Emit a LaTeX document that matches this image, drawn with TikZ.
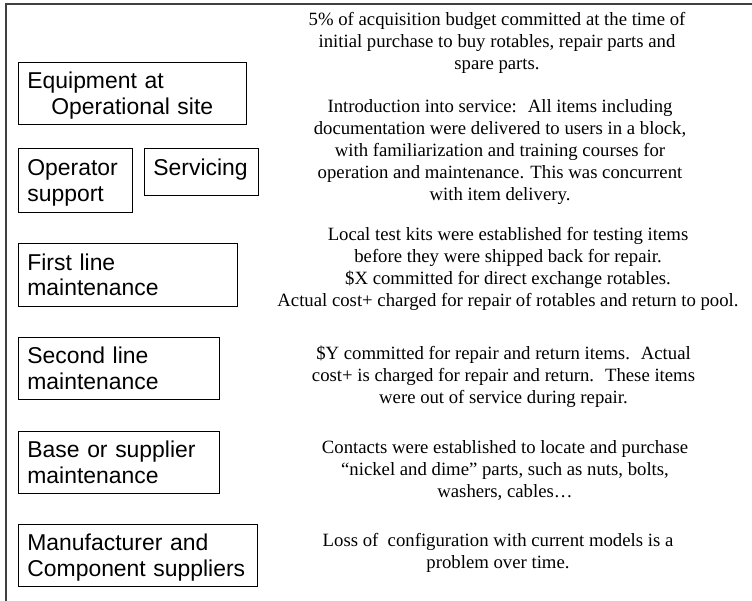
\documentclass[tikz,border=0pt]{standalone}
\usepackage{fontspec}
\setmainfont{Liberation Serif}
\setsansfont{Liberation Sans}

\begin{document}
\begin{tikzpicture}[
    x=1bp, y=-1bp,
    level/.style={draw, rectangle, line width=0.8bp, anchor=north west, align=left,
        inner xsep=9bp, inner ysep=0pt, text depth=26bp,
        font=\sffamily\fontsize{23}{26}\selectfont},
    note/.style={anchor=north, align=center, inner sep=0pt,
        font=\rmfamily\fontsize{18.8}{22.2}\selectfont},
    frame/.style={draw=black!75, line width=1.5bp}
]
\useasboundingbox (0,0) rectangle (752,601);

% Outer frame
\coordinate (fb) at (6,601);
\coordinate (fc) at (6,4);
\coordinate (fr) at (752,4);
\draw[frame] (fb) -- (fc) -- (fr);

% Support levels
\node[level, text width=211, minimum height=62] (equip) at (18,62) {Equipment at\\\hspace*{24bp}Operational site};
\node[level, text width=96, minimum height=64] (oper) at (18,148) {Operator\\support};
\node[level, text width=96, minimum height=47, text depth=10bp] (serv) at (144,148) {Servicing};
\node[level, text width=202, minimum height=63] (first) at (18,243) {First line\\maintenance};
\node[level, text width=184, minimum height=62] (second) at (18,337) {Second line\\maintenance};
\node[level, text width=184, minimum height=62] (base) at (18,431) {Base or supplier\\maintenance};
\node[level, text width=222, minimum height=62] (manuf) at (18,524) {Manufacturer and\\Component suppliers};

% Notes for each level
\node[note] (budget) at (497,12) {5\% of acquisition budget committed at the time of\\initial purchase to buy rotables, repair parts and\\spare parts.};
\node[note] (intro) at (500,99) {Introduction into service:~ All items including\\documentation were delivered to users in a block,\\with familiarization and training courses for\\operation and maintenance. This was concurrent\\with item delivery.};
\node[note] (kits) at (508,227) {Local test kits were established for testing items\\before they were shipped back for repair.\\\$X committed for direct exchange rotables.\\Actual cost+ charged for repair of rotables and return to pool.};
\node[note] (repair) at (503.5,346) {\$Y committed for repair and return items.~ Actual\\cost+ is charged for repair and return.~ These items\\were out of service during repair.};
\node[note] (contacts) at (505,440) {Contacts were established to locate and purchase\\“nickel and dime” parts, such as nuts, bolts,\\washers, cables…};
\node[note] (config) at (498,533) {Loss of~ configuration with current models is a\\problem over time.};

\end{tikzpicture}
\end{document}
